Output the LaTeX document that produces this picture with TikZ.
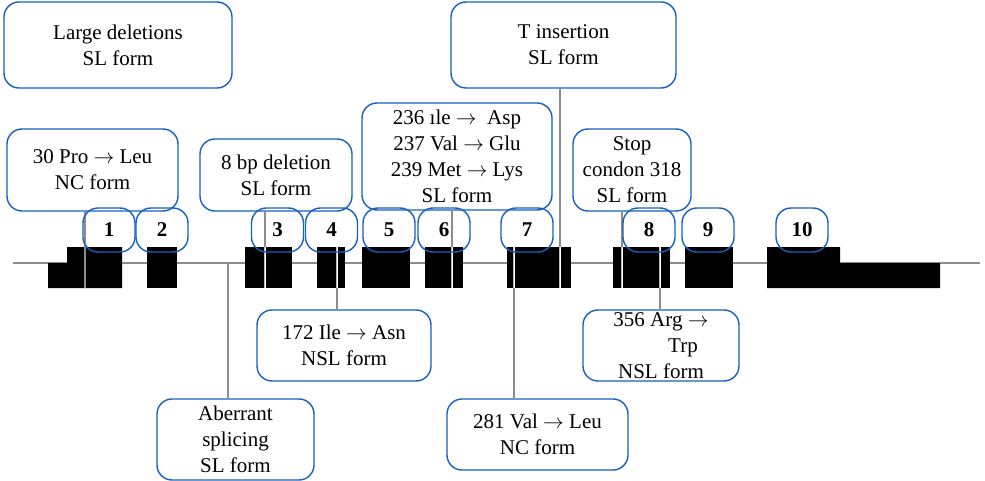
\documentclass[tikz,border=0pt]{standalone}
\usepackage{fontspec}
\setmainfont{Liberation Serif}
\definecolor{boxblue}{RGB}{22,96,192}
\definecolor{linegray}{RGB}{140,140,140}
\tikzset{
  x=1pt, y=-1pt,
  mutbox/.style={draw=boxblue, line width=1.4pt, rounded corners=15pt, fill=white,
    align=center, inner sep=0pt, font=\fontsize{21}{26}\selectfont},
  exlabel/.style={draw=boxblue, line width=1.4pt, rounded corners=15pt,
    minimum width=52pt, minimum height=44pt, inner sep=0pt,
    font=\fontsize{21}{22}\selectfont\bfseries},
  exonfill/.style={fill=black},
  conn/.style={draw=linegray, line width=2pt},
  stripe/.style={draw=linegray!60, line width=2.6pt},
  stripecore/.style={draw=white, line width=0.9pt},
  geneline/.style={draw=linegray, line width=2pt},
}
\begin{document}
\begin{tikzpicture}
\useasboundingbox (0,0) rectangle (985,481);

% gene backbone
\coordinate (g0) at (13,263);
\coordinate (g1) at (980,263);
\draw[geneline] (g0) -- (g1);

% exons
\fill[exonfill] (48,263) -- (67,263) -- (67,247) -- (122,247) -- (122,288) -- (48,288) -- cycle;
\fill[exonfill] (147,247) rectangle (177,288);
\fill[exonfill] (245,247) rectangle (292,288);
\fill[exonfill] (317,247) rectangle (345,288);
\fill[exonfill] (362,247) rectangle (410,288);
\fill[exonfill] (425,247) rectangle (463,288);
\fill[exonfill] (507,247) rectangle (571,288);
\fill[exonfill] (613,247) rectangle (670,288);
\fill[exonfill] (685,247) rectangle (733,288);
\fill[exonfill] (767,247) -- (840,247) -- (840,263) -- (940,263) -- (940,288) -- (767,288) -- cycle;

% mutation sites inside the exons (top and bottom ends)
\coordinate (s1t) at (85,247);  \coordinate (s1b) at (85,288);
\coordinate (s3t) at (265,247); \coordinate (s3b) at (265,288);
\coordinate (s4t) at (337,247); \coordinate (s4b) at (337,288);
\coordinate (s6t) at (452,247); \coordinate (s6b) at (452,288);
\coordinate (s7at) at (514,247); \coordinate (s7ab) at (514,288);
\coordinate (s7bt) at (560,247); \coordinate (s7bb) at (560,288);
\coordinate (s8at) at (622,247); \coordinate (s8ab) at (622,288);
\coordinate (s8bt) at (660,247); \coordinate (s8bb) at (660,288);
\coordinate (ab0) at (228,263);

\draw[conn] (s1t) -- (s1b);
\foreach \s in {s3,s4,s6,s7a,s7b,s8a,s8b}{
  \draw[stripe] (\s t) -- (\s b);
  \draw[stripecore] (\s t) -- (\s b);
}

% mutation boxes
\node[mutbox, minimum width=228pt, minimum height=86pt] (ld) at (118,45) {Large deletions\\SL form};
\node[mutbox, minimum width=171pt, minimum height=82pt] (pro) at (92.5,170) {30 Pro $\rightarrow$ Leu\\NC form};
\node[mutbox, minimum width=152pt, minimum height=72pt] (bp) at (276,175) {8 bp deletion\\SL form};
\node[mutbox, minimum width=190pt, minimum height=107pt] (mu) at (457,156.5) {236 ıle $\rightarrow$\ \ Asp\\237 Val $\rightarrow$ Glu\\239 Met $\rightarrow$ Lys\\SL form};
\node[mutbox, minimum width=225pt, minimum height=86pt] (ti) at (563.5,45) {T insertion\\SL form};
\node[mutbox, minimum width=118pt, minimum height=82pt] (st) at (632,170) {Stop\\condon 318\\SL form};
\node[mutbox, minimum width=174pt, minimum height=71pt] (il) at (344,345.5) {172 Ile $\rightarrow$ Asn\\NSL form};
\node[mutbox, minimum width=157pt, minimum height=81pt] (ab) at (235.5,439.5) {Aberrant\\splicing\\SL form};
\node[mutbox, minimum width=181pt, minimum height=71pt] (va) at (537.5,434.5) {281 Val $\rightarrow$ Leu\\NC form};
\node[mutbox, minimum width=156pt, minimum height=71pt] (ar) at (661,345.5) {356 Arg $\rightarrow$\\\hspace*{44pt}Trp\\NSL form};

% connectors from the boxes to the sites
\draw[conn] (pro.south -| s1t) -- (s1t);
\draw[conn] (bp.south -| s3t) -- (s3t);
\draw[conn] (mu.south -| s6t) -- (s6t);
\draw[conn] (ti.south -| s7bt) -- (s7bt);
\draw[conn] (st.south -| s8at) -- (s8at);
\draw[conn] (s4b) -- (s4b |- il.north);
\draw[conn] (ab0) -- (ab0 |- ab.north);
\draw[conn] (s7ab) -- (s7ab |- va.north);
\draw[conn] (s8bb) -- (s8bb |- ar.north);

% exon numbers
\node[exlabel] (n1) at (109,230) {1};
\node[exlabel] (n2) at (162,230) {2};
\node[exlabel] (n3) at (277.5,230) {3};
\node[exlabel] (n4) at (331.5,230) {4};
\node[exlabel] (n5) at (389,230) {5};
\node[exlabel] (n6) at (444,230) {6};
\node[exlabel] (n7) at (527,230) {7};
\node[exlabel] (n8) at (649,230) {8};
\node[exlabel] (n9) at (708,230) {9};
\node[exlabel] (n10) at (802,230) {10};
\end{tikzpicture}
\end{document}
